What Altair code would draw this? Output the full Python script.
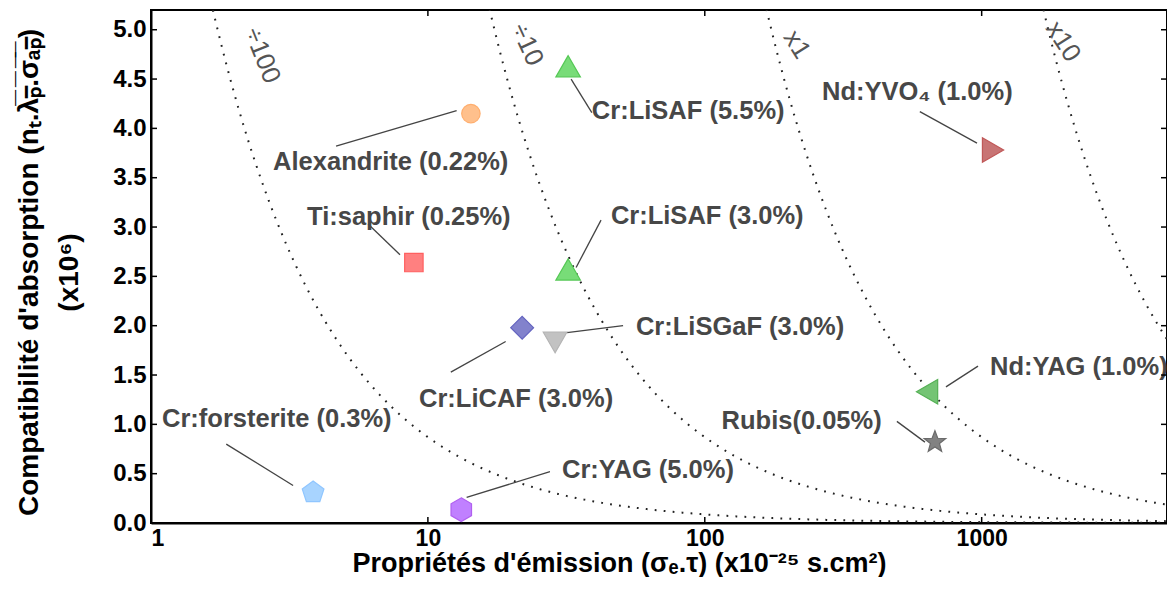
import math
import altair as alt
import pandas as pd

# ---------------- data ----------------
materials = ["Alexandrite (0.22%)", "Ti:saphir (0.25%)", "Cr:LiSAF (5.5%)", "Cr:LiSAF (3.0%)",
             "Cr:LiCAF (3.0%)", "Cr:LiSGaF (3.0%)", "Cr:forsterite (0.3%)", "Cr:YAG (5.0%)",
             "Nd:YVO₄ (1.0%)", "Nd:YAG (1.0%)", "Rubis(0.05%)"]
emission = [14.3, 8.9, 32.1, 32.1, 21.9, 28.8, 3.85, 13.2, 1099, 635, 678]
absorption = [4.15, 2.64, 4.63, 2.57, 1.98, 1.83, 0.31, 0.135, 3.78, 1.33, 0.82]

# label anchors (left edge, vertical middle) in data units
label_x = [2.76, 3.66, 39.1, 45.8, 9.29, 56.4, 1.096, 30.5, 265, 1072, 115]
label_y = [3.66, 3.10, 4.18, 3.11, 1.26, 1.99, 1.05, 0.54, 4.37, 1.585, 1.03]
# leader lines
lead_x1 = [4.66, 6.08, 32.9, 42.2, 12.1, 31.8, 1.87, 13.8, 598, 970, 494]
lead_y1 = [3.82, 3.03, 4.50, 3.07, 1.53, 1.93, 0.80, 0.26, 4.17, 1.59, 1.03]
lead_x2 = [12.7, 7.93, 39.1, 34.3, 19.1, 50.7, 3.26, 27.6, 962, 743, 624]
lead_y2 = [4.18, 2.72, 4.16, 2.59, 1.84, 2.00, 0.38, 0.52, 3.85, 1.38, 0.82]

# iso-merit curves y = k / x
curve_names = ["÷100", "÷10", "x1", "x10"]
curve_k = [8.7, 87, 870, 8700]
curve_label_x = [2.52, 22.8, 215, 1967]
curve_label_y = [4.74, 4.85, 4.85, 4.88]
curve_label_angle = [68, 65, 58, 57]

x_ticks = [1, 10, 100, 1000]
y_ticks = [0, 0.5, 1, 1.5, 2, 2.5, 3, 3.5, 4, 4.5, 5]
x_domain = [1, 4670]
y_domain = [0, 5.2]

# ---------------- styles ----------------
fills = ["#ffc08c", "#ff8080", "#78dc78", "#78dc78", "#8282cc", "#c2c2c2", "#a8d4ff",
         "#c080ff", "#c87474", "#74c474", "#828282"]
strokes = ["#ffae6e", "#ff6060", "#55c855", "#55c855", "#6464c0", "#b4b4b4", "#90c6ff",
           "#b060f0", "#c05858", "#55b055", "#6a6a6a"]


def poly(n, r_out, r_in=None):
    pts = []
    m = n * 2 if r_in else n
    for i in range(m):
        r = r_out if (r_in is None or i % 2 == 0) else r_in
        a = math.radians(-90 + 360.0 * i / m)
        pts.append(f"{r*math.cos(a):.3f},{r*math.sin(a):.3f}")
    return "M" + "L".join(pts) + "Z"


pentagon = poly(5, 1)
hexagon = poly(6, 1)
star = poly(5, 1, 0.42)
shapes = ["circle", "square", "triangle-up", "triangle-up", "diamond", "triangle-down",
          pentagon, hexagon, "triangle-right", "triangle-left", star]
sizes = [340, 340, 600, 600, 520, 560, 520, 560, 600, 600, 520]

FONT = "Liberation Sans"
W, H = 1016, 513

pts = pd.DataFrame({"m": materials, "x": emission, "y": absorption, "sz": sizes,
                    "lx": label_x, "ly": label_y,
                    "x1": lead_x1, "y1": lead_y1, "x2": lead_x2, "y2": lead_y2})
curves = pd.DataFrame({"name": curve_names, "k": curve_k})
clabels = pd.DataFrame({"name": curve_names, "x": curve_label_x, "y": curve_label_y,
                        "a": curve_label_angle})

xs = alt.Scale(type="log", domain=x_domain)
ys = alt.Scale(domain=y_domain)

x_title = "Propriétés d'émission (σₑ.τ) (x10⁻²⁵ s.cm²)"
ov = "\u0305"
y_title = ["Compatibilité d'absorption (nₜ." + "".join(c + ov for c in "λₚ.σₐₚ") + ")", "(x10⁶)"]

curve_layer = alt.Chart(curves).transform_calculate(
    t="sequence(0, 3.705, 0.005)"
).transform_flatten(["t"]).transform_calculate(
    xv="pow(10, datum.t)"
).transform_calculate(
    yv="datum.k / datum.xv"
).mark_line(clip=True, color="#222222", strokeWidth=2, strokeDash=[1.8, 7.2]).encode(
    x=alt.X("xv:Q", scale=xs, axis=alt.Axis(values=x_ticks, format="d", labelPadding=4,
                                           labelFontSize=23,
                                           title=x_title, titleX=468, titleY=48,
                                           titleFontSize=27,
                                           titleBaseline="alphabetic")),
    y=alt.Y("yv:Q", scale=ys, axis=alt.Axis(values=y_ticks, format=".1f", labelPadding=5,
                                           title=y_title, titleX=-122, titleY=262,
                                           titleFontSize=28,
                                           titleAngle=270, titleAlign="center",
                                           titleBaseline="middle", titleLineHeight=40)),
    detail="name:N",
    order="t:Q",
)

curve_text = alt.Chart(clabels).mark_text(font=FONT, fontSize=26, color="#555555",
                                          align="center", baseline="middle").encode(
    x=alt.X("x:Q", scale=xs), y=alt.Y("y:Q", scale=ys), text="name:N",
    angle=alt.Angle("a:Q", scale=None),
)

leaders = alt.Chart(pts).mark_rule(color="#444444", strokeWidth=1.3).encode(
    x=alt.X("x1:Q", scale=xs), y=alt.Y("y1:Q", scale=ys), x2="x2:Q", y2="y2:Q",
)

points = alt.Chart(pts).mark_point(filled=True, opacity=1, strokeWidth=1.2).encode(
    x=alt.X("x:Q", scale=xs), y=alt.Y("y:Q", scale=ys),
    shape=alt.Shape("m:N", scale=alt.Scale(domain=materials, range=shapes), legend=None),
    fill=alt.Fill("m:N", scale=alt.Scale(domain=materials, range=fills), legend=None),
    stroke=alt.Stroke("m:N", scale=alt.Scale(domain=materials, range=strokes), legend=None),
    size=alt.Size("sz:Q", scale=None),
)

labels = alt.Chart(pts).mark_text(font=FONT, fontSize=25.5, fontWeight="bold", color="#474747",
                                  align="left", baseline="middle").encode(
    x=alt.X("lx:Q", scale=xs), y=alt.Y("ly:Q", scale=ys), text="m:N",
)

xt = pd.DataFrame({"v": x_ticks})
yt = pd.DataFrame({"v": y_ticks})
tick_style = dict(color="black", strokeWidth=1.5)
xb = alt.Chart(xt).mark_rule(**tick_style).encode(
    x=alt.X("v:Q", scale=xs), y=alt.value(H), y2=alt.value(H - 6))
xtp = alt.Chart(xt).mark_rule(**tick_style).encode(
    x=alt.X("v:Q", scale=xs), y=alt.value(0), y2=alt.value(6))
yl = alt.Chart(yt).mark_rule(**tick_style).encode(
    y=alt.Y("v:Q", scale=ys), x=alt.value(0), x2=alt.value(6))
yr = alt.Chart(yt).mark_rule(**tick_style).encode(
    y=alt.Y("v:Q", scale=ys), x=alt.value(W), x2=alt.value(W - 6))

chart = alt.layer(curve_layer, leaders, points, labels, curve_text, xb, xtp, yl, yr).properties(
    width=W, height=H,
    autosize=alt.AutoSizeParams(type="none"),
    padding={"left": 143, "top": 2, "right": 0, "bottom": 54},
).configure_view(
    stroke="black", strokeWidth=2
).configure_axis(
    grid=False, ticks=False, tickSize=0, domainColor="black", domainWidth=2,
    labelFont=FONT, labelFontSize=24, labelFontWeight="bold", labelColor="black",
    titleFont=FONT, titleFontSize=26, titleFontWeight="bold", titleColor="black",
)

chart.save("out.html", embed_options={"renderer": "svg", "actions": False})
